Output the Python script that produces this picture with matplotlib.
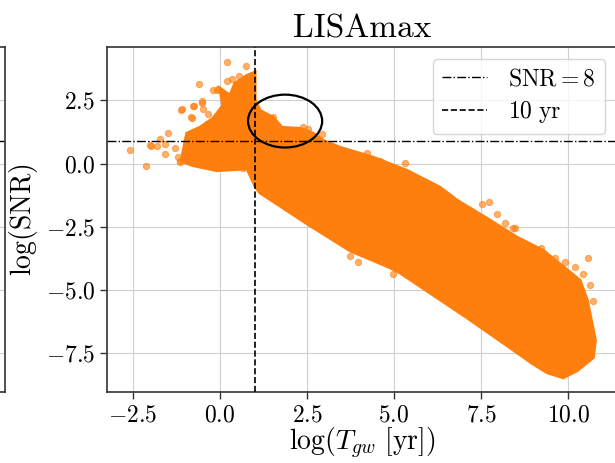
import numpy as np
import matplotlib
matplotlib.use('Agg')
import matplotlib.pyplot as plt
from matplotlib.patches import Ellipse

plt.rcParams['font.family'] = 'serif'
plt.rcParams['font.serif'] = ['cmr10']
plt.rcParams['mathtext.fontset'] = 'cm'
plt.rcParams['axes.formatter.use_mathtext'] = True

# dense core of the cloud left of the 10 yr line (outline)
left_core_x = [-1.06, -0.95, -0.57, -0.2, 0.09, 0.0, 0.29, 0.43, 0.78, 1.0,
               1.0, 0.78, -0.09, -0.78, -1.1]
left_core_y = [0.44, 1.19, 1.43, 1.78, 2.29, 2.96, 2.69, 3.16, 3.48, 3.6,
               -0.85, -0.2, -0.27, -0.07, 0.1]

# dense main band, upper edge then lower edge
band_upper_x = [1.0, 1.15, 1.52, 1.78, 2.30, 2.67, 2.96, 3.45, 4.40, 5.37, 6.32,
                6.81, 7.76, 8.53, 9.28, 10.34, 10.55, 10.78, 10.72, 10.26, 9.86, 9.40]
band_upper_y = [2.5, 2.09, 1.82, 1.42, 1.38, 1.19, 0.91, 0.63, 0.24, -0.28, -0.95,
                -1.46, -2.25, -2.92, -3.44, -4.62, -5.42, -7.0, -7.67, -8.18, -8.46, -8.26]
band_lower_x = [8.99, 8.05, 7.10, 5.17, 4.89, 3.74, 2.5, 1.15, 1.0]
band_lower_y = [-7.91, -7.0, -6.09, -4.31, -4.11, -3.44, -2.37, -1.15, -0.87]

# scattered single systems around the dense region
sparse_x = [0.19, 0.75, -0.60, -0.09, -0.52, -0.75, -0.49, -1.12, -0.83, -1.49, -1.72,
            -1.98, -1.58, -2.59, -2.13, -1.29, -1.21, -0.66, -0.37, -2.01, -0.06,
            -0.66, -0.2, 0.66, -1.15, 1.52, 2.39, 2.53, 2.93, 4.22, 4.6, 5.32, 5.32,
            5.75, 6.12, 3.74, 3.97, 4.97, 7.53, 7.73, 7.96, 8.19, 8.48, 9.22, 9.63,
            9.91, 10.2, 10.43, 10.63, 10.72, 8.42, 10.57, -0.2, -0.78, -0.52, -1.09,
            -0.80, -1.58, -1.15, -1.81, 0.35, 0.55, -0.35, 0.2]
sparse_y = [4.0, 3.87, 3.16, 2.89, 2.41, 2.29, 2.17, 2.13, 1.86, 1.19, 0.99,
            0.71, 0.79, 0.55, -0.08, 0.63, 0.24, 1.3, 1.58, 0.75, 2.96,
            0.04, -0.08, -0.16, 0.12, 1.86, 1.46, 1.38, 1.15, 0.43, 0.12, 0.04, -0.36,
            -0.67, -0.87, -3.64, -3.91, -4.35, -1.58, -1.54, -1.98, -2.37, -2.53, -3.32, -3.75,
            -3.91, -4.11, -4.35, -4.82, -5.42, -2.53, -3.75, 2.89, 2.29, 2.49, 2.17,
            1.82, 0.36, 0.08, 0.71, 3.35, 3.45, 1.95, 3.25]

snr_thr = np.log10(8)
t_obs = np.log10(10)

xlim = (-3.247, 11.408)
ylim = (-9.04, 4.6)
yticks = [-7.5, -5.0, -2.5, 0.0, 2.5]
xticks = [-2.5, 0.0, 2.5, 5.0, 7.5, 10.0]

fig = plt.figure(figsize=(6.15, 4.63), dpi=100)

# neighbouring panel, only its right edge is visible
ax0 = fig.add_axes([-0.75, 0.153, 0.758, 0.745])
ax0.set_xlim(xlim)
ax0.set_ylim(ylim)
ax0.set_yticks(yticks)
ax0.set_xticks([])
ax0.tick_params(left=False, labelleft=False)
ax0.grid(True, color='#d0d0d0', lw=0.8)
ax0.axhline(snr_thr, color='k', ls='-.', lw=1.0)
for s in ax0.spines.values():
    s.set_color('#333333')
    s.set_linewidth(1.2)

ax = fig.add_axes([0.174, 0.153, 0.8293, 0.745])
ax.set_axisbelow(True)
ax.grid(True, color='#d0d0d0', lw=0.8)

orange = '#ff7f0e'
ax.fill(left_core_x, left_core_y, color=orange, lw=2.5, ec=orange, zorder=2)
ax.fill(band_upper_x + band_lower_x, band_upper_y + band_lower_y,
        color=orange, lw=2.5, ec=orange, zorder=2)
ax.scatter(sparse_x, sparse_y, s=20, color=orange, alpha=0.6, lw=0.8, zorder=2)

ax.axhline(snr_thr, color='k', ls='-.', lw=1.0, label=r'$\mathrm{SNR} = 8$', zorder=3)
ax.axvline(t_obs, color='k', ls='--', lw=1.2, label=r'$10\ \mathrm{yr}$', zorder=3)

ax.add_patch(Ellipse((1.87, 1.68), 2.13, 2.09, fill=False, ec='k', lw=1.6, zorder=4))

ax.set_xlim(xlim)
ax.set_ylim(ylim)
ax.set_xticks(xticks)
ax.set_yticks(yticks)
ax.tick_params(labelsize=17, length=5, width=1.0, color='#333333')
for s in ax.spines.values():
    s.set_color('#333333')
    s.set_linewidth(1.2)

ax.set_xlabel(r'$\log(T_{gw}\ [\mathrm{yr}])$', fontsize=20, labelpad=0)
ax.set_ylabel(r'$\log(\mathrm{SNR})$', fontsize=20, labelpad=4)
ax.set_title('LISAmax', fontsize=24, pad=7)

ax.legend(loc='upper right', fontsize=17, handlelength=1.9, handletextpad=0.9,
          framealpha=0.8, borderpad=0.4, labelspacing=0.35)

fig.savefig('out.png', dpi=100)
